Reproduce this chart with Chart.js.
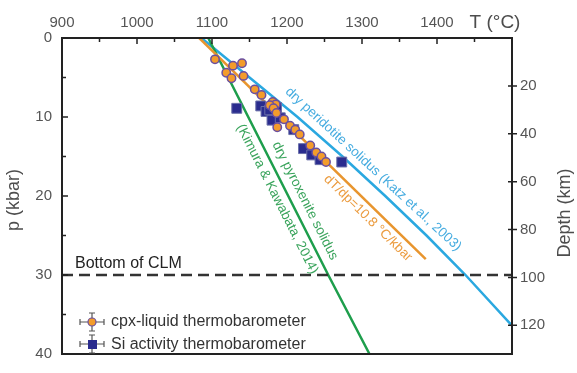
<!DOCTYPE html>
<html>
<head>
<meta charset="utf-8">
<script src="https://cdn.jsdelivr.net/npm/chart.js@4.4.1/dist/chart.umd.min.js"></script>
<style>
  body { margin: 0; background: #fff; }
  #wrap { width: 577px; height: 373px; }
</style>
</head>
<body>
<div id="wrap"><canvas id="chart" width="577" height="373"></canvas></div>
<script>
// temperature (C) and pressure (kbar)
var peridotiteT = [1086, 1150, 1214, 1274, 1331, 1386, 1438, 1500];
var peridotiteP = [0, 5, 10, 15, 20, 25, 30, 36.4];
var pyroxeniteT = [1095, 1255, 1310];
var pyroxeniteP = [0, 30, 40];
var gradientT = [1083, 1385];
var gradientP = [0, 28];
var clmP = 30;

var cpxT = [1104, 1128, 1140, 1119, 1142, 1126, 1157, 1166, 1181, 1185, 1177, 1182, 1186, 1196, 1187, 1204, 1211, 1217, 1231, 1239, 1246, 1252];
var cpxP = [2.7, 3.5, 3.2, 4.4, 4.8, 5.1, 6.5, 7.2, 8.1, 8.4, 8.5, 8.9, 9.5, 10.3, 11.3, 11.1, 11.6, 12.2, 13.6, 14.5, 15.0, 15.7];
var siT = [1133, 1165, 1172, 1177, 1186, 1180, 1191, 1209, 1222, 1233, 1244, 1273];
var siP = [8.9, 8.6, 9.3, 9.1, 8.8, 10.4, 10.1, 11.6, 14.0, 14.8, 15.4, 15.7];

var tTicks = [900, 1000, 1100, 1200, 1300, 1400];
var pTicks = [0, 10, 20, 30, 40];
var depthTicks = [20, 40, 60, 80, 100, 120];

var FONT = "'Liberation Sans', Arial, sans-serif";
var BLUE = '#2aa8e0';
var GREEN = '#1e9e4c';
var ORANGE = '#e8952e';

function toPoints(xs, ys) {
    return xs.map(function(v, i) { return {x: v, y: ys[i]}; });
}

// plain numbers, no thousands separator
function plain(value) {
    return String(value);
}

// ticks, frame, labels and legend that chart.js can't draw the same way
var decor = {
    id: 'decor',
    afterDatasetsDraw: function(chart) {
        var ctx = chart.ctx;
        var a = chart.chartArea;
        var sx = chart.scales.x, sy = chart.scales.y, sd = chart.scales.y2;
        ctx.save();

        // dashed bottom of CLM
        var yc = sy.getPixelForValue(clmP);
        ctx.strokeStyle = '#333';
        ctx.lineWidth = 2.5;
        ctx.setLineDash([11, 6]);
        ctx.beginPath();
        ctx.moveTo(a.left, yc);
        ctx.lineTo(a.right, yc);
        ctx.stroke();
        ctx.setLineDash([]);

        ctx.fillStyle = '#222';
        ctx.font = '16px ' + FONT;
        ctx.textAlign = 'left';
        ctx.textBaseline = 'bottom';
        ctx.fillText('Bottom of CLM', 75, yc - 3);

        // frame
        ctx.strokeStyle = '#222';
        ctx.lineWidth = 2;
        ctx.strokeRect(a.left, a.top, a.right - a.left, a.bottom - a.top);

        // inward ticks
        ctx.lineWidth = 1.5;
        ctx.beginPath();
        for (var t = 900; t <= 1500; t += 50) {
            var px = sx.getPixelForValue(t);
            var len = (t % 100 === 0) ? 6 : 4;
            ctx.moveTo(px, a.top);
            ctx.lineTo(px, a.top + len);
        }
        for (var p = 0; p <= 40; p += 5) {
            var py = sy.getPixelForValue(p);
            var l2 = (p % 10 === 0) ? 6 : 4;
            ctx.moveTo(a.left, py);
            ctx.lineTo(a.left + l2, py);
        }
        for (var i = 0; i < depthTicks.length; i++) {
            var dy = sd.getPixelForValue(depthTicks[i]);
            ctx.moveTo(a.right - 4, dy);
            ctx.lineTo(a.right + 5, dy);
        }
        ctx.stroke();

        // rotated line labels
        function slopeAngle(xs, ys, i) {
            var x1 = sx.getPixelForValue(xs[i]), y1 = sy.getPixelForValue(ys[i]);
            var x2 = sx.getPixelForValue(xs[i + 1]), y2 = sy.getPixelForValue(ys[i + 1]);
            return Math.atan2(y2 - y1, x2 - x1);
        }
        function rotText(text, T, P, angle, color) {
            ctx.save();
            ctx.translate(sx.getPixelForValue(T), sy.getPixelForValue(P));
            ctx.rotate(angle);
            ctx.fillStyle = color;
            ctx.font = '13.5px ' + FONT;
            ctx.textAlign = 'center';
            ctx.textBaseline = 'middle';
            ctx.fillText(text, 0, 0);
            ctx.restore();
        }
        rotText('dry peridotite solidus (Katz et al., 2003)', 1315, 16.6, slopeAngle(peridotiteT, peridotiteP, 3), '#46ace0');
        rotText('dT/dp=10.8 \u00B0C/kbar', 1308, 22.8, slopeAngle(gradientT, gradientP, 0), '#eb9c40');
        rotText('dry pyroxenite solidus', 1224, 20.6, slopeAngle(pyroxeniteT, pyroxeniteP, 0), '#3aa45c');
        rotText('(Kimura & Kawabata, 2014)', 1187, 20.4, slopeAngle(pyroxeniteT, pyroxeniteP, 0), '#3aa45c');

        // axis titles
        ctx.fillStyle = '#4d4d4d';
        ctx.font = '19px ' + FONT;
        ctx.textAlign = 'center';
        ctx.textBaseline = 'middle';
        ctx.fillText('T (\u00B0C)', 495, 23);
        ctx.font = '18px ' + FONT;
        ctx.save();
        ctx.translate(14, 200);
        ctx.rotate(-Math.PI / 2);
        ctx.fillText('p (kbar)', 0, 0);
        ctx.restore();
        ctx.save();
        ctx.translate(565, 213);
        ctx.rotate(-Math.PI / 2);
        ctx.fillText('Depth (km)', 0, 0);
        ctx.restore();

        // legend with error bar glyphs
        function errGlyph(cx, cy) {
            ctx.strokeStyle = '#555';
            ctx.lineWidth = 1.2;
            ctx.beginPath();
            ctx.moveTo(cx - 12, cy); ctx.lineTo(cx + 12, cy);
            ctx.moveTo(cx - 12, cy - 3); ctx.lineTo(cx - 12, cy + 3);
            ctx.moveTo(cx + 12, cy - 3); ctx.lineTo(cx + 12, cy + 3);
            ctx.moveTo(cx, cy - 9); ctx.lineTo(cx, cy + 9);
            ctx.moveTo(cx - 3, cy - 9); ctx.lineTo(cx + 3, cy - 9);
            ctx.moveTo(cx - 3, cy + 9); ctx.lineTo(cx + 3, cy + 9);
            ctx.stroke();
        }
        errGlyph(92, 322);
        ctx.fillStyle = '#f39c2b';
        ctx.strokeStyle = '#6a4fa0';
        ctx.lineWidth = 1.2;
        ctx.beginPath();
        ctx.arc(92, 322, 4, 0, Math.PI * 2);
        ctx.fill();
        ctx.stroke();
        errGlyph(92, 344);
        ctx.fillStyle = '#2a2c8e';
        ctx.fillRect(88, 340, 9, 9);

        ctx.fillStyle = '#333';
        ctx.font = '16px ' + FONT;
        ctx.textAlign = 'left';
        ctx.textBaseline = 'middle';
        ctx.fillText('cpx-liquid thermobarometer', 111, 322);
        ctx.fillText('Si activity thermobarometer', 111, 345);

        ctx.restore();
    }
};

var ctx = document.getElementById('chart');
var chart = new Chart(ctx, {
    type: 'scatter',
    data: {
        datasets: [{
            label: 'dry peridotite solidus',
            data: toPoints(peridotiteT, peridotiteP),
            showLine: true,
            borderColor: BLUE,
            borderWidth: 2.5,
            pointRadius: 0,
            order: 5
        }, {
            label: 'dry pyroxenite solidus',
            data: toPoints(pyroxeniteT, pyroxeniteP),
            showLine: true,
            borderColor: GREEN,
            borderWidth: 2.5,
            pointRadius: 0,
            order: 4
        }, {
            label: 'dT/dp',
            data: toPoints(gradientT, gradientP),
            showLine: true,
            borderColor: ORANGE,
            borderWidth: 2.5,
            pointRadius: 0,
            order: 3
        }, {
            label: 'Si activity thermobarometer',
            data: toPoints(siT, siP),
            pointStyle: 'rect',
            pointRadius: 7,
            backgroundColor: '#2a2c8e',
            borderColor: '#6a70aa',
            borderWidth: 1,
            order: 2
        }, {
            label: 'cpx-liquid thermobarometer',
            data: toPoints(cpxT, cpxP),
            pointStyle: 'circle',
            pointRadius: 4.2,
            backgroundColor: '#f39c2b',
            borderColor: '#6a4fa0',
            borderWidth: 1.5,
            order: 1
        }]
    },
    options: {
        responsive: false,
        animation: false,
        layout: { padding: { top: 0, left: 0, right: 0, bottom: 4 } },
        plugins: { legend: { display: false }, tooltip: { enabled: false } },
        scales: {
            x: {
                type: 'linear',
                position: 'top',
                min: 900,
                max: 1500,
                afterFit: function(scale) { scale.height = 38; },
                afterBuildTicks: function(scale) {
                    scale.ticks = tTicks.map(function(v) { return {value: v}; });
                },
                ticks: { padding: 6, color: '#555', font: { family: FONT, size: 15 }, callback: plain },
                grid: { display: false, drawTicks: false },
                border: { display: false }
            },
            y: {
                type: 'linear',
                position: 'left',
                reverse: true,
                min: 0,
                max: 40,
                afterFit: function(scale) { scale.width = 62; },
                afterBuildTicks: function(scale) {
                    scale.ticks = pTicks.map(function(v) { return {value: v}; });
                },
                ticks: { padding: 10, color: '#555', font: { family: FONT, size: 15 }, callback: plain },
                grid: { display: false, drawTicks: false },
                border: { display: false }
            },
            y2: {
                type: 'linear',
                position: 'right',
                reverse: true,
                min: 0,
                max: 132,
                afterFit: function(scale) { scale.width = 65; },
                afterBuildTicks: function(scale) {
                    scale.ticks = depthTicks.map(function(v) { return {value: v}; });
                },
                ticks: { padding: 8, color: '#555', font: { family: FONT, size: 15 }, callback: plain },
                grid: { display: false, drawTicks: false },
                border: { display: false }
            }
        }
    },
    plugins: [decor]
});
</script>
</body>
</html>
